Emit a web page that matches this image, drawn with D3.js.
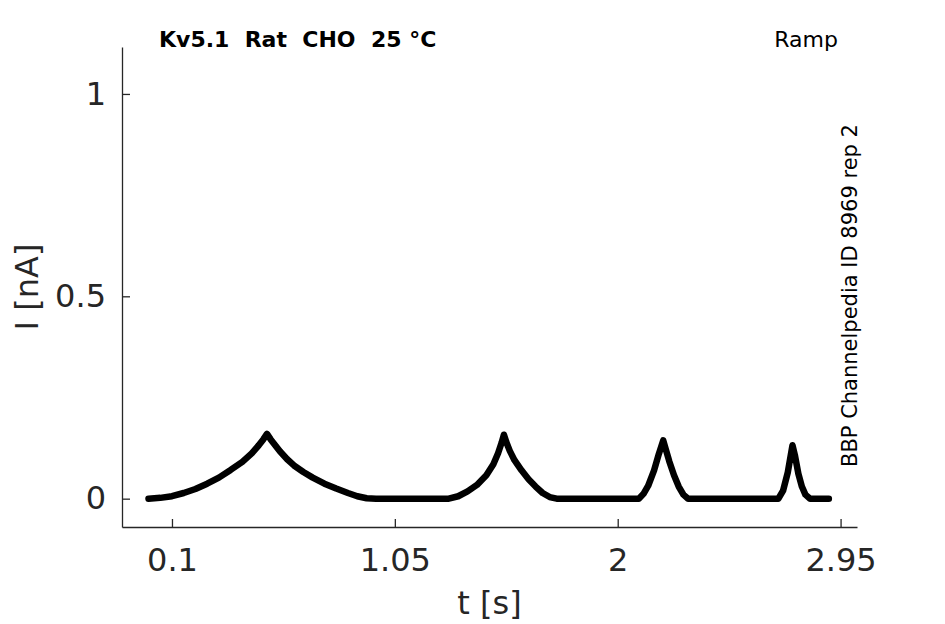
<!DOCTYPE html>
<html>
<head>
<meta charset="utf-8">
<script src="https://cdn.jsdelivr.net/npm/d3@7"></script>
<style>
  body { margin: 0; background: #fff; }
  svg { display: block; font-family: 'DejaVu Sans', sans-serif; }
</style>
</head>
<body>
<div id="chart"></div>
<script>
// trace (t in s, I in nA)
const times = [0, 0.05, 0.1, 0.15, 0.2, 0.25, 0.3, 0.35, 0.4, 0.44, 0.47, 0.49, 0.505,
  0.52, 0.54, 0.56, 0.59, 0.62, 0.66, 0.70, 0.75, 0.80, 0.85, 0.89, 0.93, 0.97,
  1.28, 1.32, 1.36, 1.40, 1.44, 1.47, 1.49, 1.505, 1.515,
  1.525, 1.54, 1.56, 1.59, 1.62, 1.65, 1.68, 1.71, 1.74,
  2.09, 2.11, 2.13, 2.155, 2.175, 2.194, 2.205, 2.22, 2.24, 2.26, 2.28, 2.30,
  2.685, 2.705, 2.725, 2.745, 2.755, 2.77, 2.785, 2.80, 2.82, 2.90]
const currents = [0, 0.002, 0.006, 0.014, 0.024, 0.037, 0.052, 0.071, 0.091, 0.112, 0.132, 0.147, 0.160,
  0.147, 0.132, 0.117, 0.098, 0.082, 0.066, 0.052, 0.037, 0.025, 0.014, 0.006, 0.001, 0,
  0, 0.006, 0.018, 0.034, 0.058, 0.085, 0.112, 0.138, 0.158,
  0.14, 0.118, 0.095, 0.07, 0.048, 0.03, 0.014, 0.004, 0,
  0, 0.012, 0.032, 0.07, 0.11, 0.144, 0.122, 0.092, 0.058, 0.03, 0.01, 0,
  0, 0.02, 0.065, 0.132, 0.108, 0.062, 0.03, 0.01, 0, 0]
const xTicks = [0.1, 1.05, 2, 2.95]
const yTicks = [0, 0.5, 1]

const width = 945
const height = 624
const margin = { top: 47, right: 88, bottom: 97, left: 122 }
const axisColor = '#262626'

const svg = d3.select('#chart').append('svg')
  .attr('width', width)
  .attr('height', height)

const x = d3.scaleLinear()
  .domain([-0.113, 3.02])
  .range([margin.left, width - margin.right])
const y = d3.scaleLinear()
  .domain([-0.07, 1.116])
  .range([height - margin.bottom, margin.top])

const points = times.map((t, i) => ({ t, v: currents[i] }))

// axes, ticks pointing inward like matlab
const xAxis = svg.append('g')
  .attr('transform', `translate(0, ${height - margin.bottom})`)
  .call(d3.axisBottom(x).tickValues(xTicks).tickFormat(d3.format(''))
    .tickSizeInner(-8).tickSizeOuter(0).tickPadding(21))
const yAxis = svg.append('g')
  .attr('transform', `translate(${margin.left}, 0)`)
  .call(d3.axisLeft(y).tickValues(yTicks).tickFormat(d3.format(''))
    .tickSizeInner(-8).tickSizeOuter(0).tickPadding(16))

;[xAxis, yAxis].forEach(a => {
  a.select('.domain').attr('stroke', axisColor).attr('stroke-width', 1.3)
  a.selectAll('.tick line').attr('stroke', axisColor).attr('stroke-width', 1.3)
  a.selectAll('.tick text')
    .attr('fill', axisColor)
    .style('font-family', 'DejaVu Sans, sans-serif')
    .style('font-size', '32px')
})

svg.append('path')
  .datum(points)
  .attr('fill', 'none')
  .attr('stroke', '#000')
  .attr('stroke-width', 6.5)
  .attr('stroke-linejoin', 'round')
  .attr('stroke-linecap', 'round')
  .attr('d', d3.line().x(d => x(d.t)).y(d => y(d.v)))

// labels
svg.append('text')
  .attr('x', (margin.left + width - margin.right) / 2)
  .attr('y', 614)
  .attr('text-anchor', 'middle')
  .attr('fill', axisColor)
  .style('font-size', '32px')
  .text('t [s]')

svg.append('text')
  .attr('transform', `translate(38, ${(margin.top + height - margin.bottom) / 2}) rotate(-90)`)
  .attr('text-anchor', 'middle')
  .attr('fill', axisColor)
  .style('font-size', '32px')
  .text('I [nA]')

svg.append('text')
  .attr('x', 159)
  .attr('y', 47)
  .attr('fill', '#000')
  .style('font-size', '22px')
  .style('font-weight', 'bold')
  .style('white-space', 'pre')
  .text('Kv5.1  Rat  CHO  25 °C')

svg.append('text')
  .attr('x', 838)
  .attr('y', 47)
  .attr('text-anchor', 'end')
  .attr('fill', '#000')
  .style('font-size', '22px')
  .text('Ramp')

svg.append('text')
  .attr('transform', 'translate(857, 467) rotate(-90)')
  .attr('fill', '#000')
  .style('font-size', '21px')
  .text('BBP Channelpedia ID 8969 rep 2')
</script>
</body>
</html>
